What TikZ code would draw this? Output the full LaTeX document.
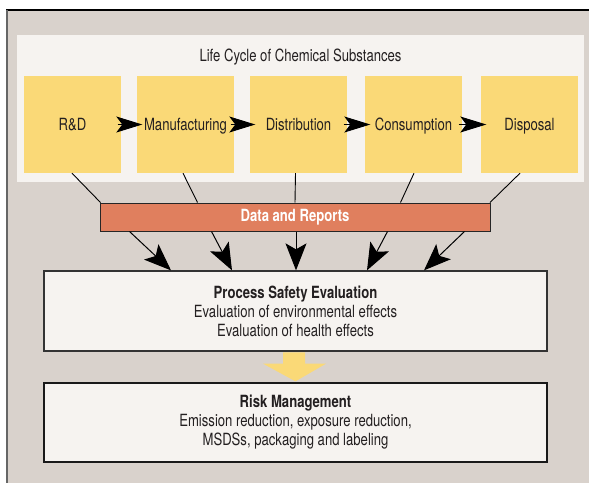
\documentclass[tikz,border=0pt]{standalone}
\usepackage{fontspec}
\setmainfont{TeX Gyre Heros}[FakeStretch=0.78]
\usetikzlibrary{arrows.meta,calc}

\definecolor{framegray}{HTML}{D9D2CC}
\definecolor{panelwhite}{HTML}{F6F3F0}
\definecolor{stageyellow}{HTML}{FAD977}
\definecolor{dataorange}{HTML}{E07F5E}
\definecolor{textdark}{HTML}{231F20}

\tikzset{
  stagebox/.style={fill=stageyellow, minimum width=97pt, minimum height=97pt,
    inner sep=0pt, text=textdark, text height=12pt, text depth=0pt},
  evalbox/.style={fill=panelwhite, draw=black!80, line width=1.3pt,
    minimum width=503pt, inner sep=0pt, align=center, text=textdark},
  feed/.style={draw=black, line width=0.9pt},
  flowtip/.style={-{Stealth[length=26pt,width=16pt,inset=6pt]}, line width=1pt},
  droptip/.style={-{Stealth[length=27pt,width=21pt,inset=6pt]}, line width=1pt},
}

\begin{document}
\begin{tikzpicture}[x=1pt,y=-1pt,font=\fontsize{16.8}{19}\selectfont]
  \useasboundingbox (0,0) rectangle (589,483);

  % outer tinted frame
  \fill[framegray] (7,10) rectangle (589,483);
  \draw[black, line width=1.6pt] (6.2,10) -- (589,10);
  \draw[black!60, line width=1.6pt] (7,10) -- (7,483);

  % life cycle panel
  \fill[panelwhite] (17,35) rectangle (584,182);
  \node[text=textdark] (title) at (300.5,57) {Life Cycle of Chemical Substances};

  % stages
  \node[stagebox] (rd)   at (72.5,124.5)  {R\&D};
  \node[stagebox] (mfg)  at (185.5,124.5) {Manufacturing};
  \node[stagebox] (dist) at (298.5,124.5) {Distribution};
  \node[stagebox] (cons) at (413.5,124.5) {Consumption};
  \node[stagebox] (disp) at (529.5,124.5) {Disposal};

  \foreach \a/\b in {rd/mfg, mfg/dist, dist/cons, cons/disp}
    \draw[flowtip] ([xshift=-3.5pt]\a.east) -- ([xshift=5.5pt]\b.west);

  % data and reports bar
  \node[fill=dataorange, draw=black!85, line width=1pt, minimum width=390pt,
        minimum height=28pt, inner sep=0pt, text=white,
        font=\fontsize{16.8}{19}\selectfont\bfseries] (data) at (295,217)
        {Data and Reports};

  \draw[feed] ([xshift=-0.5pt]rd.south)   -- ([xshift=1pt]data.north west);
  \draw[feed] ([xshift=-2.5pt]mfg.south)  -- ([xshift=98pt]data.north west);
  \draw[feed] ([xshift=-3pt]dist.south)   -- ([xshift=195.5pt]data.north west);
  \draw[feed] ([xshift=0.5pt]cons.south)  -- ([xshift=-90pt]data.north east);
  \draw[feed] ([xshift=-9.5pt]disp.south) -- ([xshift=-0.5pt]data.north east);

  % process safety evaluation
  \node[evalbox, minimum height=80pt] (psafe) at (295.5,311)
    {\textbf{Process Safety Evaluation}\\
     Evaluation of environmental effects\\
     Evaluation of health effects};

  \draw[droptip] ([xshift=30pt]data.south west)  -- ([xshift=-124.5pt]psafe.north);
  \draw[droptip] ([xshift=112pt]data.south west) -- ([xshift=-63.5pt]psafe.north);
  \draw[droptip] ([xshift=1pt]data.south)        -- ([xshift=0.5pt]psafe.north);
  \draw[droptip] ([xshift=-103pt]data.south east) -- ([xshift=71.5pt]psafe.north);
  \draw[droptip] ([xshift=-26pt]data.south east)  -- ([xshift=128.5pt]psafe.north);

  % risk management
  \node[evalbox, draw=black!90, minimum height=79pt] (risk) at (295.5,422.5)
    {\textbf{Risk Management}\\
     Emission reduction, exposure reduction,\\
     MSDSs, packaging and labeling};

  % block arrow between the two evaluation boxes
  \fill[stageyellow]
    ($(psafe.south)+(-12.5,0.7)$) -- ($(psafe.south)+(9.5,0.7)$)
    -- ($(psafe.south)+(9.5,12)$) -- ($(psafe.south)+(30.5,12)$)
    -- ($(risk.north)+(0,-1)$)
    -- ($(psafe.south)+(-32.5,12)$) -- ($(psafe.south)+(-12.5,12)$) -- cycle;
\end{tikzpicture}
\end{document}
